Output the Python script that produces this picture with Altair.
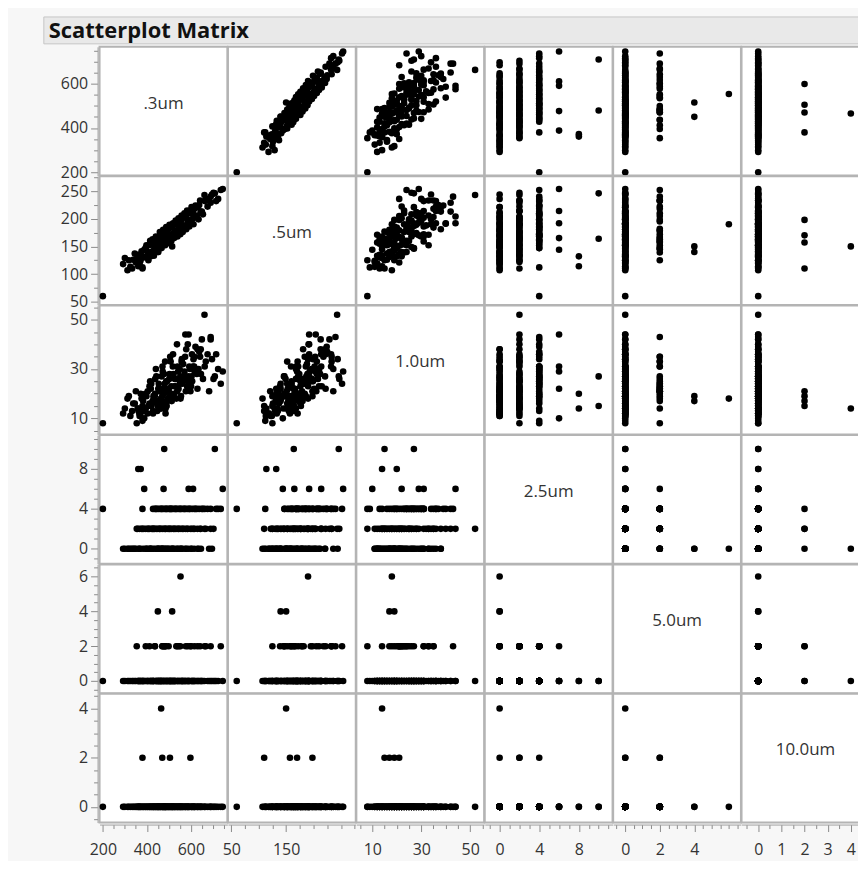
import altair as alt
import pandas as pd

# ---------------- data ----------------
names = [".3um", ".5um", "1.0um", "2.5um", "5.0um", "10.0um"]
fields = ["um03", "um05", "um10", "um25", "um50", "um100"]

um03 = [200, 553, 450, 515, 465, 380, 470, 505, 598, 662, 479, 709, 361, 372, 388, 476, 590, 610, 745,
        292, 300, 312, 325, 338, 350, 362, 371, 383, 394, 403, 412, 421, 430, 438, 447, 455, 463, 472, 481,
        490, 499, 508, 517, 527, 538, 549, 561, 574, 588, 601, 615, 630, 646, 683, 696,
        354, 358, 367, 376, 386, 395, 404, 412, 420, 428, 436, 443, 450, 457, 464, 471, 478, 485, 492, 499,
        506, 513, 521, 529, 537, 546, 555, 565, 575, 586, 605, 617, 630, 645, 668, 690, 703,
        380, 428, 437, 446, 454, 462, 470, 478, 486, 494, 502, 510, 518, 526, 534, 542, 550, 559, 568, 577,
        586, 596, 606, 616, 627, 638, 650, 663, 676, 690, 724, 736,
        415, 432, 441, 452, 459, 467, 474, 483, 488, 496, 503, 511, 519, 524, 531, 539, 544, 552, 558, 563,
        571, 579, 583, 593, 603, 612, 621, 635, 642, 655, 398, 407, 418, 426, 345, 333, 318, 366, 715, 485]
um05 = [60, 190, 140, 150, 150, 110, 157, 170, 198, 243, 164, 246, 114, 132, 144, 165, 192, 214, 254,
        118, 129, 107, 113, 126, 121, 135, 124, 131, 147, 133, 139, 158, 142, 149, 163, 151, 154, 170, 160,
        177, 166, 171, 186, 176, 179, 196, 185, 203, 192, 210, 202, 221, 212, 236, 244,
        125, 134, 122, 141, 130, 145, 136, 152, 140, 157, 147, 146, 164, 153, 168, 159, 171, 162, 178, 167,
        184, 172, 190, 176, 191, 182, 198, 188, 204, 195, 214, 203, 222, 213, 233, 229, 247,
        112, 155, 147, 161, 152, 168, 158, 174, 163, 180, 168, 184, 172, 190, 178, 193, 181, 199, 187, 205,
        192, 210, 199, 218, 206, 225, 213, 232, 222, 240, 236, 252,
        160, 133, 168, 140, 176, 147, 180, 152, 185, 156, 189, 160, 192, 165, 197, 168, 201, 172, 206, 176,
        210, 181, 215, 186, 221, 190, 224, 199, 233, 208, 152, 125, 132, 163, 137, 110, 125, 119, 232, 171]
um10 = [8, 18, 17, 19, 14, 15, 17, 19, 21, 52, 15, 27, 14, 20, 10, 22, 44, 31, 29,
        12, 14, 18, 11, 16, 21, 13, 11, 17, 20, 12, 23, 15, 19, 26, 13, 21, 17, 29, 24,
        15, 22, 33, 19, 26, 21, 30, 24, 35, 27, 23, 31, 38, 28, 21, 34,
        8, 14, 11, 18, 13, 14, 21, 16, 24, 12, 19, 27, 15, 22, 18, 31, 20, 14, 25, 21,
        35, 17, 28, 23, 40, 26, 19, 32, 44, 25, 36, 29, 22, 38, 33, 42, 26,
        9, 13, 20, 16, 24, 14, 19, 28, 22, 17, 26, 20, 31, 23, 18, 29, 24, 34, 27, 21,
        40, 30, 25, 35, 28, 37, 42, 31, 36, 43, 30, 24,
        25, 18, 30, 22, 16, 27, 20, 33, 25, 18, 28, 23, 36, 20, 26, 31, 22, 27, 33, 25,
        29, 38, 23, 31, 27, 34, 39, 30, 35, 26, 19, 15, 22, 17, 16, 13, 19, 12, 36, 12]
um25 = [4, 0, 0, 0, 0, 2, 0, 4, 2, 2, 10, 10, 8, 8, 6, 6, 6, 6, 6,
        0, 0, 0, 0, 0, 0, 0, 0, 0, 0, 0, 0, 0, 0, 0, 0, 0, 0, 0, 0,
        0, 0, 0, 0, 0, 0, 0, 0, 0, 0, 0, 0, 0, 0, 0, 0,
        2, 2, 2, 2, 2, 2, 2, 2, 2, 2, 2, 2, 2, 2, 2, 2, 2, 2, 2, 2,
        2, 2, 2, 2, 2, 2, 2, 2, 2, 2, 2, 2, 2, 2, 2, 2, 2,
        4, 4, 4, 4, 4, 4, 4, 4, 4, 4, 4, 4, 4, 4, 4, 4, 4, 4, 4, 4,
        4, 4, 4, 4, 4, 4, 4, 4, 4, 4, 4, 4,
        0, 2, 4, 0, 2, 4, 0, 2, 4, 0, 2, 4, 0, 2, 4, 0, 2, 4, 0, 2,
        4, 0, 2, 4, 0, 2, 4, 0, 2, 4, 0, 2, 0, 2, 0, 0, 0, 0, 4, 0]
um50 = [0, 6, 4, 4, 0, 0, 2, 0, 2, 0, 0, 0, 0, 0, 0, 2, 0, 0, 0,
        0, 0, 0, 0, 0, 0, 0, 0, 0, 0, 0, 2, 0, 0, 0, 0, 0, 0, 0, 2,
        0, 0, 0, 0, 0, 2, 0, 0, 0, 0, 2, 0, 0, 0, 0, 0,
        2, 0, 0, 0, 0, 2, 0, 0, 0, 0, 2, 0, 0, 0, 0, 2, 0, 0, 0, 2,
        0, 0, 0, 0, 0, 2, 0, 0, 0, 2, 0, 0, 2, 0, 2, 0, 0,
        0, 0, 2, 0, 0, 0, 0, 0, 2, 0, 0, 0, 0, 0, 2, 0, 0, 0, 0, 2,
        0, 0, 0, 2, 0, 0, 0, 2, 0, 2, 0, 2,
        0, 0, 0, 0, 0, 0, 0, 2, 0, 0, 0, 0, 0, 0, 0, 0, 0, 2, 0, 0,
        0, 0, 0, 0, 0, 0, 0, 0, 2, 0, 0, 0, 0, 0, 0, 0, 0, 0, 0, 0]
um100 = [0, 0, 0, 0, 4, 2, 2, 2, 2, 0, 0, 0, 0, 0, 0, 0, 0, 0, 0,
         0, 0, 0, 0, 0, 0, 0, 0, 0, 0, 0, 0, 0, 0, 0, 0, 0, 0, 0, 0,
         0, 0, 0, 0, 0, 0, 0, 0, 0, 0, 0, 0, 0, 0, 0, 0,
         0, 0, 0, 0, 0, 0, 0, 0, 0, 0, 0, 0, 0, 0, 0, 0, 0, 0, 0, 0,
         0, 0, 0, 0, 0, 0, 0, 0, 0, 0, 0, 0, 0, 0, 0, 0, 0,
         0, 0, 0, 0, 0, 0, 0, 0, 0, 0, 0, 0, 0, 0, 0, 0, 0, 0, 0, 0,
         0, 0, 0, 0, 0, 0, 0, 0, 0, 0, 0, 0,
         0, 0, 0, 0, 0, 0, 0, 0, 0, 0, 0, 0, 0, 0, 0, 0, 0, 0, 0, 0,
         0, 0, 0, 0, 0, 0, 0, 0, 0, 0, 0, 0, 0, 0, 0, 0, 0, 0, 0, 0]

# axis tick labels
y_labels = {"um03": [200, 400, 600], "um05": [50, 100, 150, 200, 250], "um10": [10, 30, 50],
            "um25": [0, 4, 8], "um50": [0, 2, 4, 6], "um100": [0, 2, 4]}
x_labels = {"um03": [200, 400, 600], "um05": [50, 150], "um10": [10, 30, 50],
            "um25": [0, 4, 8], "um50": [0, 2, 4], "um100": [0, 1, 2, 3, 4]}

# ---------------- styling / layout ----------------
y_domains = {"um03": [185, 766], "um05": [44, 277], "um10": [3.5, 55.7],
             "um25": [-1.5, 11.4], "um50": [-0.7, 6.7], "um100": [-0.64, 4.6]}
x_domains = dict(y_domains, um100=[-0.72, 4.8])
minor_ticks = {"um03": list(range(200, 751, 50)), "um05": list(range(50, 276, 25)),
               "um10": list(range(5, 56, 5)), "um25": list(range(-1, 12)),
               "um50": [k / 2 for k in range(-1, 14)], "um100": [k / 2 for k in range(-1, 10)]}

FONT = "Open Sans"
CW, CH = 128.4, 129.4

df = pd.DataFrame({"um03": um03, "um05": um05, "um10": um10,
                   "um25": um25, "um50": um50, "um100": um100})
one = pd.DataFrame({"k": [0]})


def make_axis(field, orient):
    labs = y_labels[field] if orient == "left" else x_labels[field]
    test = "(" + " || ".join("abs(datum.value - %s) < 0.001" % v for v in labs) + ")"
    return alt.Axis(values=minor_ticks[field], title=None, grid=False,
                    labelExpr=test + " ? toString(round(datum.value)) : ''",
                    tickSize={"condition": {"test": test, "value": 7}, "value": 4},
                    labelOverlap=False, labelFlush=False, labelFont=FONT, labelFontSize=16,
                    labelColor="#333333", labelPadding=3 if orient == "left" else 10,
                    tickColor="#8a8a8a", domainColor="#a0a0a0", offset=2)


cells = []
for i in range(6):
    for j in range(6):
        fy, fx = fields[i], fields[j]
        xs = alt.Scale(domain=x_domains[fx], nice=False, zero=False)
        ys = alt.Scale(domain=y_domains[fy], nice=False, zero=False)
        xa = make_axis(fx, "bottom") if i == 5 else None
        ya = make_axis(fy, "left") if j == 0 else None
        pts = alt.Chart(df).mark_circle(size=44, color="black", opacity=0 if i == j else 1).encode(
            x=alt.X(fx + ":Q", scale=xs, axis=xa),
            y=alt.Y(fy + ":Q", scale=ys, axis=ya),
        )
        layers = [pts]
        if i == j:
            layers.append(alt.Chart(one).mark_text(font=FONT, fontSize=17, color="#333333",
                                                   baseline="middle", align="center").encode(
                x=alt.value(CW / 2), y=alt.value(57), text=alt.value(names[i])))
        if i == 0 and j == 0:
            layers.append(alt.Chart(one).mark_rect(fill="#e9e9e9", stroke="#c6c6c6", strokeWidth=1).encode(
                x=alt.value(-56), x2=alt.value(770), y=alt.value(-30), y2=alt.value(-3)))
            layers.append(alt.Chart(one).mark_text(font=FONT, fontSize=22, fontWeight="bold", color="#111111",
                                                   align="left", baseline="middle").encode(
                x=alt.value(-51), y=alt.value(-16), text=alt.value("Scatterplot Matrix")))
        cells.append(alt.layer(*layers).properties(width=CW, height=CH))

chart = alt.concat(*cells, columns=6, spacing=0, bounds="flush").properties(
    padding={"left": 34, "top": 5, "right": -13, "bottom": 0},
    background="#f7f7f7",
).configure_view(stroke="#b4b4b4", strokeWidth=2, fill="white")

chart.save("out.html", embed_options={"renderer": "svg", "actions": False})
